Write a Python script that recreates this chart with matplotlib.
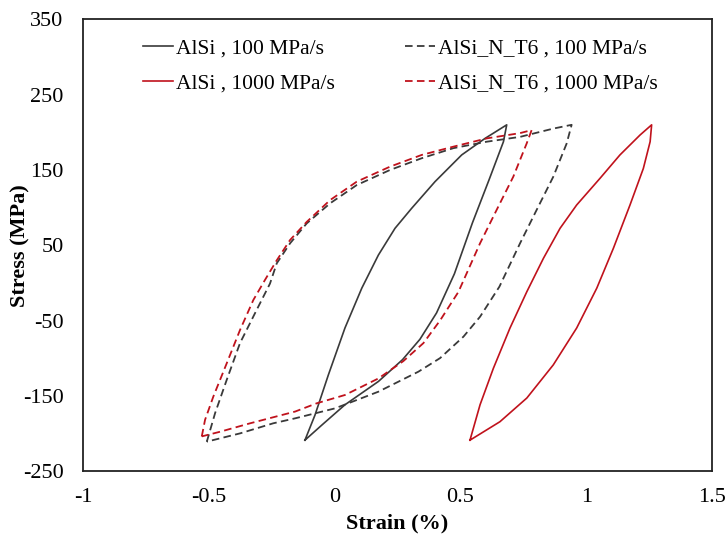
import numpy as np
import matplotlib
matplotlib.use('Agg')
import matplotlib.pyplot as plt

# values (strain in %, stress in MPa)
alsi_100_strain = [-0.118, -0.078, -0.025, 0.041, 0.108, 0.174, 0.240, 0.306, 0.399, 0.505, 0.598, 0.684,
                   0.671, 0.615, 0.548, 0.476, 0.405, 0.339, 0.270, 0.174, 0.041, -0.051, -0.118]
alsi_100_stress = [-209, -175.6, -122.4, -60, -7, 37, 72.5, 99, 134.5, 170, 192, 210,
                   187.6, 138, 80, 12, -40, -75, -102, -131, -162, -189, -209]

t6_100_strain = [-0.508, -0.475, -0.429, -0.376, -0.310, -0.257, -0.230, -0.177, -0.111, -0.018, 0.088, 0.220,
                 0.346, 0.472, 0.605, 0.737, 0.869, 0.942,
                 0.922, 0.869, 0.803, 0.737, 0.655, 0.578, 0.512, 0.419, 0.333, 0.174, 0.002,
                 -0.157, -0.244, -0.376, -0.508]
t6_100_stress = [-211, -173, -129, -80, -36, -1, 26, 52.6, 79, 105.7, 130, 150,
                 165.6, 179, 187.6, 194, 205, 210,
                 185, 141, 97, 52.6, -5, -45, -71.5, -100, -118, -144.6, -166.7,
                 -180, -186.6, -200, -211]

alsi_1000_strain = [0.538, 0.578, 0.631, 0.697, 0.764, 0.830, 0.896, 0.962, 1.055, 1.134, 1.214, 1.260,
                    1.254, 1.227, 1.174, 1.108, 1.042, 0.962, 0.869, 0.764, 0.657, 0.538]
alsi_1000_stress = [-209, -162, -113.5, -60, -11.7, 32.7, 72.5, 103.5, 139, 170, 196.5, 210,
                    187.6, 152, 103.5, 46, -7, -60, -109, -153, -184.5, -209]

t6_1000_strain = [-0.528, -0.515, -0.482, -0.429, -0.376, -0.323, -0.277, -0.230, -0.177, -0.111, -0.018, 0.088,
                  0.220, 0.346, 0.472, 0.605, 0.737, 0.783,
                  0.763, 0.710, 0.644, 0.578, 0.492, 0.419, 0.353, 0.273, 0.174, 0.041, -0.071, -0.157,
                  -0.336, -0.455, -0.528]
t6_1000_stress = [-204, -182, -151, -107, -62.6, -22.7, 3.8, 30, 57, 81, 110, 134.5,
                  154.4, 170, 181, 192, 199, 203,
                  185, 141, 97, 52.6, -12, -50, -80, -104, -127, -149, -160, -171,
                  -186.6, -197.8, -204]

x_ticks = [-1, -0.5, 0, 0.5, 1, 1.5]
x_tick_labels = ['-1', '-0.5', '0', '0.5', '1', '1.5']
y_ticks = [-250, -150, -50, 50, 150, 250, 350]

plt.rcParams['font.family'] = ['Liberation Serif', 'DejaVu Serif']
plt.rcParams['axes.unicode_minus'] = False

black = '#3a3a3a'
red = '#c0121c'
dash = (0, (4.2, 2.4))
fs = 16

fig = plt.figure(figsize=(7.27, 5.35), dpi=100)
ax = fig.add_axes([0.1142, 0.1196, 0.8652, 0.844])

# plot order gives the legend rows: AlSi 100 | T6 100 / AlSi 1000 | T6 1000
ax.plot(alsi_100_strain, alsi_100_stress, color=black, lw=1.2, label='AlSi , 100 MPa/s')
ax.plot(alsi_1000_strain, alsi_1000_stress, color=red, lw=1.2, label='AlSi , 1000 MPa/s')
ax.plot(t6_100_strain, t6_100_stress, color=black, lw=1.3, linestyle=dash, label='AlSi_N_T6 , 100 MPa/s')
ax.plot(t6_1000_strain, t6_1000_stress, color=red, lw=1.3, linestyle=dash, label='AlSi_N_T6 , 1000 MPa/s')

ax.set_xlim(-1, 1.5)
ax.set_ylim(-250, 350)
ax.set_xticks(x_ticks)
ax.set_xticklabels(x_tick_labels)
ax.set_yticks(y_ticks)
ax.tick_params(length=0, labelsize=fs)
ax.tick_params(axis='y', pad=14)
ax.tick_params(axis='x', pad=12)
for s in ax.spines.values():
    s.set_linewidth(1.3)
    s.set_color('#222222')

ax.set_xlabel('Strain (%)', fontsize=fs, fontweight='bold')
ax.set_ylabel('Stress (MPa)', fontsize=fs, fontweight='bold')
ax.xaxis.set_label_coords(0.5, -0.093)
ax.yaxis.set_label_coords(-0.084, 0.5)

ax.legend(ncol=2, frameon=False, fontsize=15.5, loc='upper left', bbox_to_anchor=(0.065, 1.0),
          handlelength=1.4, handletextpad=0.12, columnspacing=3.25, labelspacing=0.68)

fig.savefig('out.png', dpi=100)
